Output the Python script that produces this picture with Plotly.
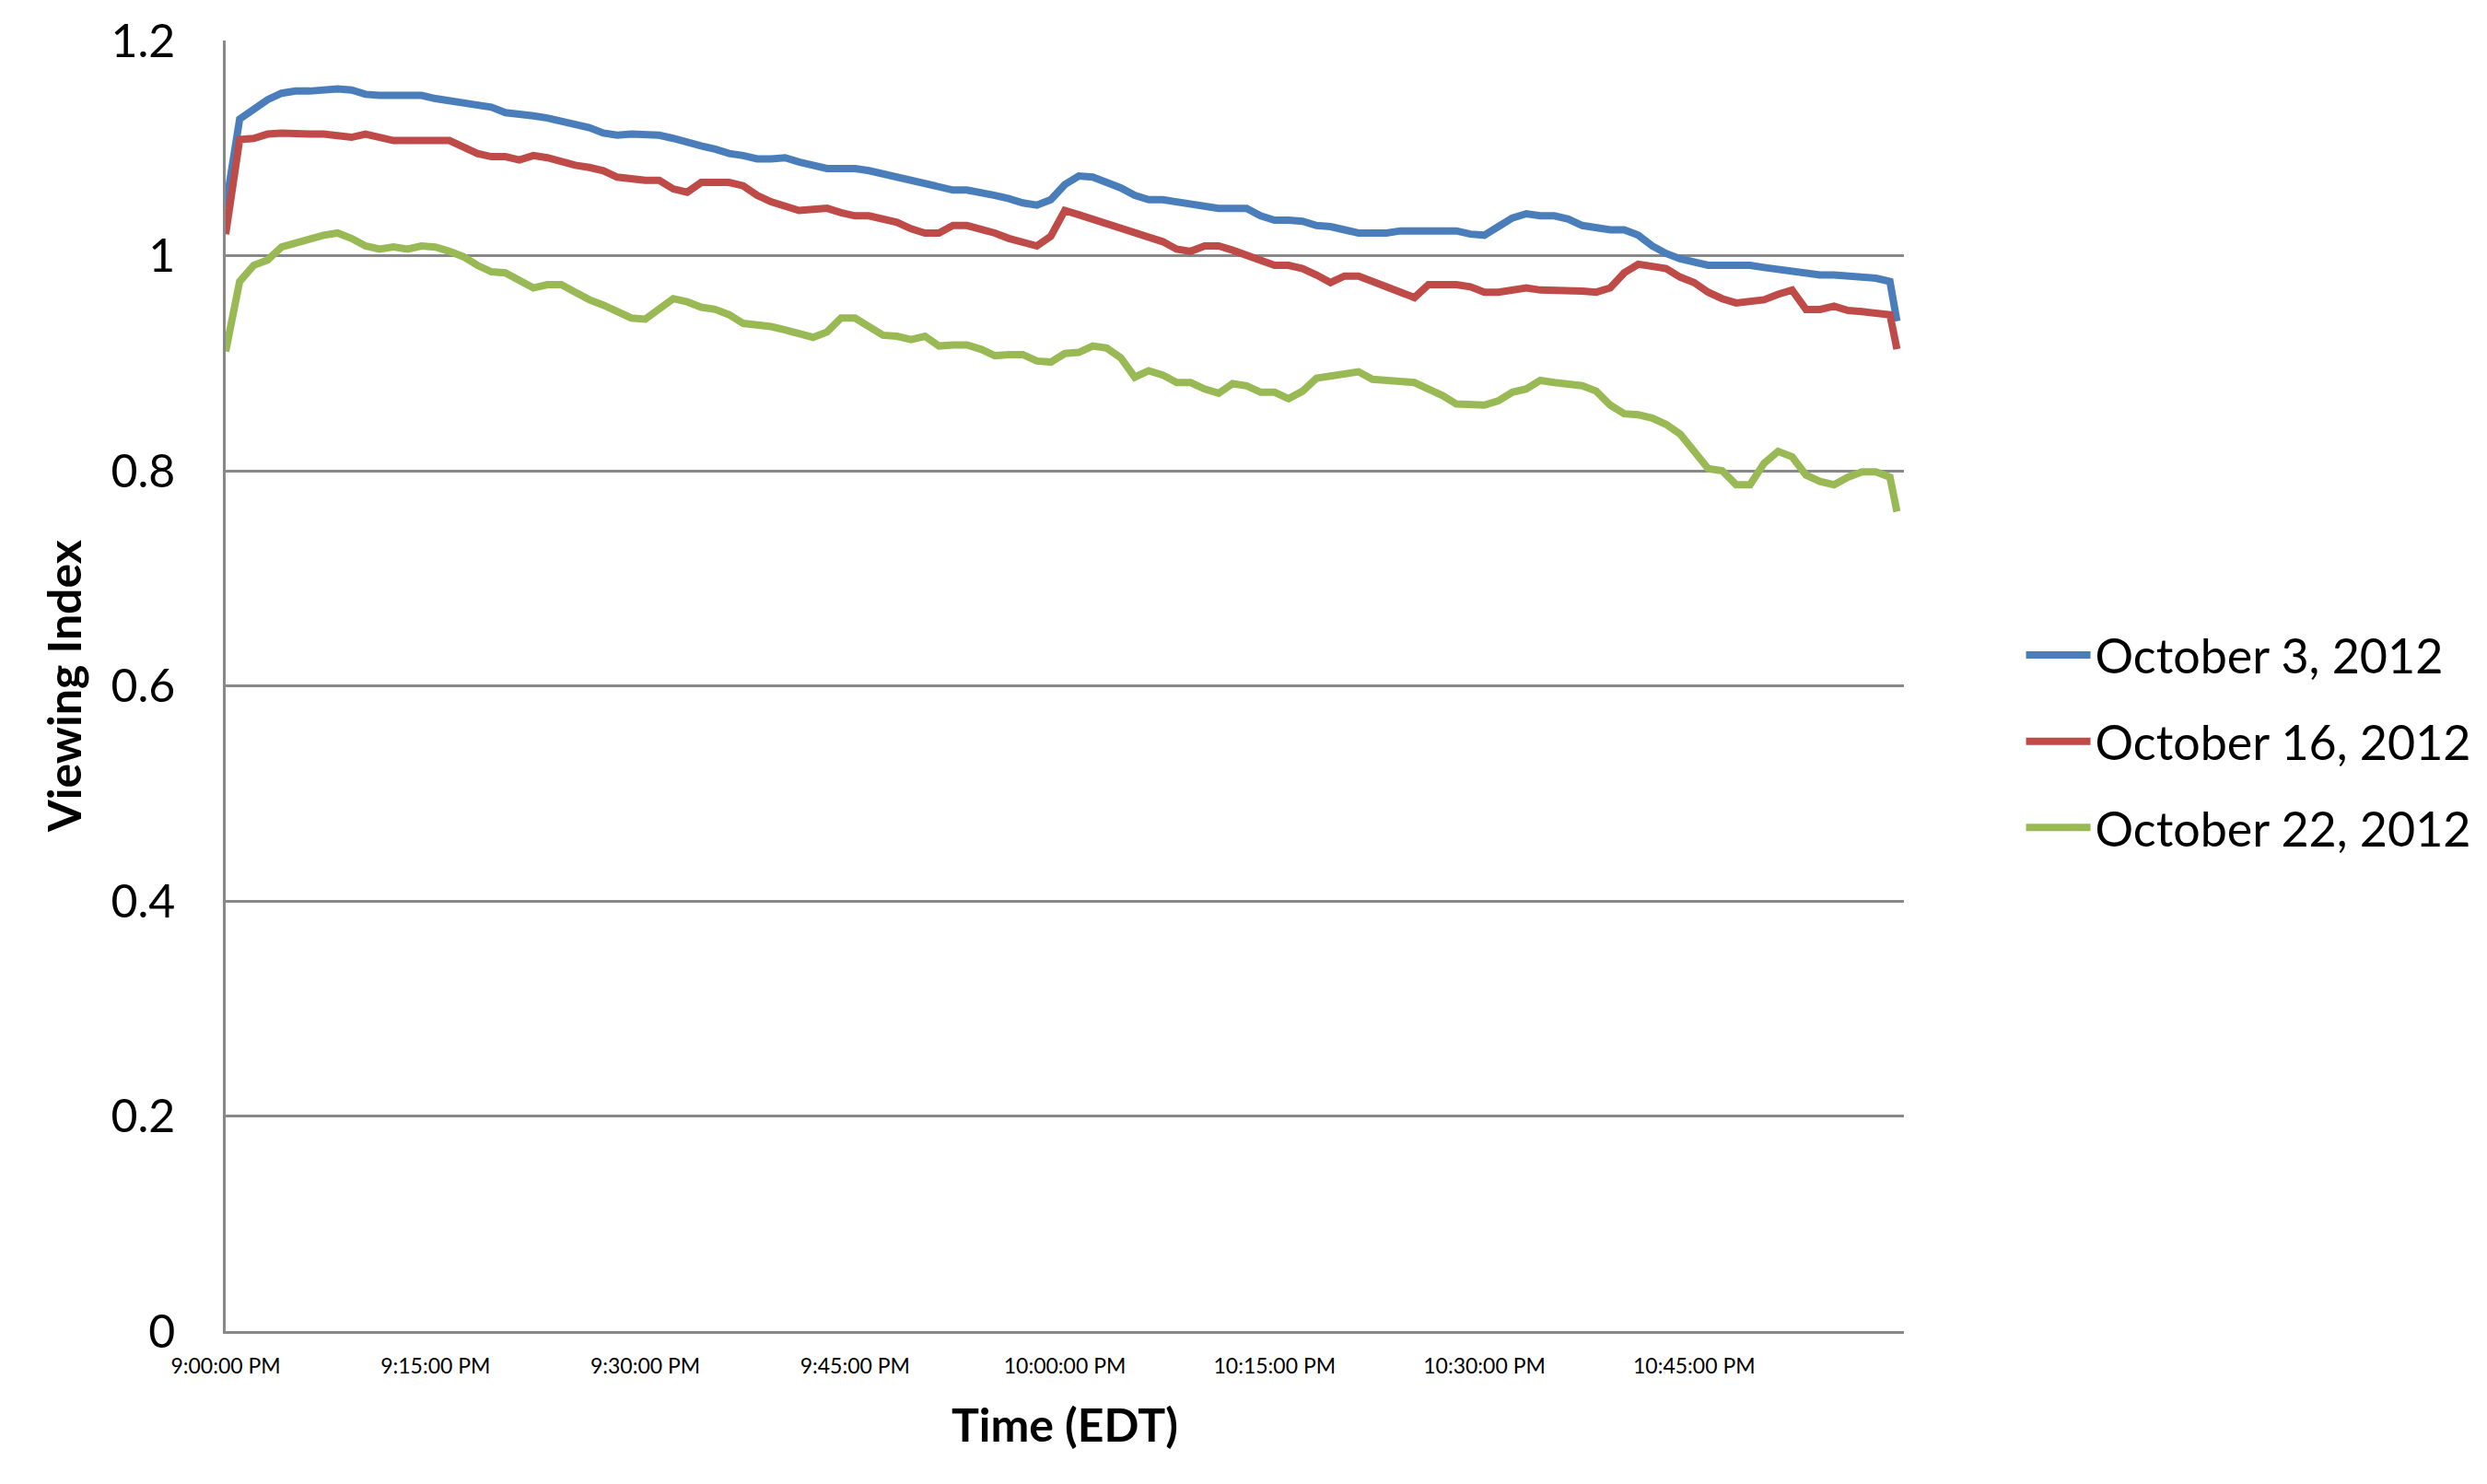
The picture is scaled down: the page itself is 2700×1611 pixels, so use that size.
import plotly.graph_objects as go

# minutes after 9:00 PM (EDT)
minutes = list(range(0, 120)) + [119.5]

tick_minutes = [0, 15, 30, 45, 60, 75, 90, 105]
tick_labels = ["9:00:00 PM", "9:15:00 PM", "9:30:00 PM", "9:45:00 PM",
               "10:00:00 PM", "10:15:00 PM", "10:30:00 PM", "10:45:00 PM"]

series_names = ["October 3, 2012", "October 16, 2012", "October 22, 2012"]

oct3 = [1.045, 1.127, 1.136, 1.145, 1.151, 1.153, 1.153, 1.154, 1.155, 1.154,
        1.150, 1.149, 1.149, 1.149, 1.149, 1.146, 1.144, 1.142, 1.140, 1.138,
        1.133, 1.132, 1.130, 1.128, 1.125, 1.122, 1.119, 1.114, 1.112, 1.113,
        1.112, 1.112, 1.109, 1.105, 1.102, 1.099, 1.095, 1.093, 1.090, 1.090,
        1.091, 1.087, 1.084, 1.081, 1.081, 1.081, 1.079, 1.076, 1.073, 1.070,
        1.067, 1.065, 1.061, 1.061, 1.059, 1.056, 1.053, 1.049, 1.047, 1.052,
        1.066, 1.074, 1.073, 1.068, 1.063, 1.056, 1.052, 1.052, 1.050, 1.049,
        1.046, 1.044, 1.044, 1.044, 1.037, 1.033, 1.033, 1.032, 1.028, 1.027,
        1.024, 1.021, 1.021, 1.021, 1.023, 1.023, 1.023, 1.023, 1.023, 1.020,
        1.019, 1.027, 1.035, 1.039, 1.037, 1.037, 1.034, 1.028, 1.026, 1.024,
        1.024, 1.019, 1.009, 1.002, 0.997, 0.994, 0.991, 0.991, 0.991, 0.991,
        0.989, 0.987, 0.985, 0.983, 0.982, 0.982, 0.981, 0.979, 0.979, 0.976,
        0.939]

oct16 = [1.020, 1.108, 1.109, 1.113, 1.114, 1.113, 1.113, 1.113, 1.112, 1.110,
         1.113, 1.110, 1.107, 1.107, 1.107, 1.107, 1.107, 1.101, 1.095, 1.092,
         1.092, 1.089, 1.093, 1.091, 1.087, 1.084, 1.082, 1.079, 1.073, 1.071,
         1.070, 1.070, 1.062, 1.059, 1.068, 1.068, 1.068, 1.065, 1.056, 1.050,
         1.046, 1.042, 1.043, 1.044, 1.040, 1.037, 1.037, 1.034, 1.031, 1.025,
         1.021, 1.021, 1.028, 1.028, 1.025, 1.021, 1.016, 1.012, 1.009, 1.018,
         1.042, 1.038, 1.034, 1.030, 1.026, 1.022, 1.018, 1.013, 1.006, 1.004,
         1.009, 1.009, 1.005, 1.000, 0.996, 0.991, 0.991, 0.988, 0.982, 0.975,
         0.981, 0.981, 0.976, 0.971, 0.967, 0.961, 0.973, 0.973, 0.973, 0.971,
         0.966, 0.966, 0.968, 0.970, 0.968, 0.968, 0.967, 0.967, 0.966, 0.970,
         0.984, 0.992, 0.990, 0.988, 0.980, 0.975, 0.966, 0.960, 0.956, 0.957,
         0.959, 0.964, 0.968, 0.950, 0.950, 0.953, 0.949, 0.948, 0.947, 0.945,
         0.913]

oct22 = [0.911, 0.976, 0.991, 0.996, 1.008, 1.012, 1.016, 1.019, 1.021, 1.016,
         1.009, 1.006, 1.008, 1.006, 1.009, 1.008, 1.004, 0.999, 0.991, 0.985,
         0.984, 0.976, 0.970, 0.973, 0.973, 0.966, 0.959, 0.954, 0.948, 0.942,
         0.941, 0.950, 0.960, 0.957, 0.952, 0.950, 0.945, 0.937, 0.936, 0.934,
         0.931, 0.927, 0.924, 0.929, 0.942, 0.942, 0.933, 0.926, 0.925, 0.922,
         0.925, 0.916, 0.917, 0.917, 0.913, 0.907, 0.908, 0.908, 0.902, 0.901,
         0.909, 0.910, 0.916, 0.914, 0.905, 0.887, 0.893, 0.889, 0.882, 0.882,
         0.876, 0.872, 0.881, 0.879, 0.873, 0.873, 0.867, 0.874, 0.886, 0.888,
         0.890, 0.892, 0.885, 0.884, 0.884, 0.882, 0.876, 0.870, 0.862, 0.862,
         0.861, 0.865, 0.873, 0.876, 0.884, 0.882, 0.880, 0.879, 0.874, 0.861,
         0.853, 0.852, 0.849, 0.843, 0.834, 0.819, 0.802, 0.800, 0.787, 0.787,
         0.807, 0.818, 0.813, 0.796, 0.790, 0.787, 0.794, 0.799, 0.799, 0.794,
         0.762]

colors = ["#4A7EBB", "#BE4B48", "#98B954"]

FONT = "Lato, 'Open Sans', sans-serif"
GRID = "#888888"

fig = go.Figure()
for name, vals, col in zip(series_names, [oct3, oct16, oct22], colors):
    fig.add_trace(go.Scatter(
        x=minutes, y=vals, name=name, mode="lines",
        legendgroup=name,
        line=dict(color=col, width=8),
    ))

fig.update_layout(
    width=2700, height=1611,
    margin=dict(l=245, r=629, t=41, b=166),
    paper_bgcolor="white", plot_bgcolor="white",
    font=dict(family=FONT, color="black"),
    showlegend=True,
    legend=dict(
        x=1.07, xanchor="left", y=0.457, yanchor="middle",
        font=dict(size=52, family=FONT, color="black"),
        tracegroupgap=23, itemwidth=70,
        bgcolor="rgba(0,0,0,0)",
    ),
)

fig.update_xaxes(
    range=[0, 120],
    tickmode="array", tickvals=tick_minutes, ticktext=tick_labels,
    tickfont=dict(size=23, family=FONT, color="black"),
    ticks="", showgrid=False, zeroline=False,
    showline=True, linecolor=GRID, linewidth=2.5,
    ticklabelstandoff=16,
    title=dict(text="Time (EDT)", standoff=35,
               font=dict(size=50, family=FONT, color="black", weight="bold")),
)

fig.update_yaxes(
    range=[0, 1.2], tickmode="linear", tick0=0, dtick=0.2,
    tickfont=dict(size=50, family=FONT, color="black"),
    ticks="", showgrid=True, gridcolor=GRID, gridwidth=2.5,
    zeroline=False, showline=True, linecolor=GRID, linewidth=2.5,
    ticklabelstandoff=42,
    title=dict(text="Viewing Index", standoff=16,
               font=dict(size=50, family=FONT, color="black", weight="bold")),
)

fig.write_html("out.html", config={"displayModeBar": False},
               post_script="document.body.style.margin='0';document.body.style.overflow='hidden';")
